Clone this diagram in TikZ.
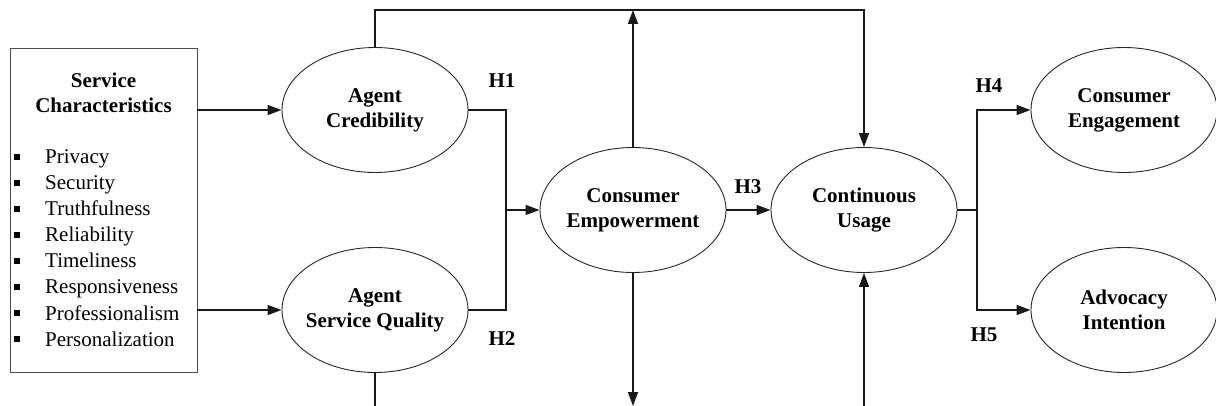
\documentclass[tikz,border=0pt]{standalone}
\usepackage{fontspec}
\setmainfont{Liberation Serif}
\usetikzlibrary{shapes.geometric,arrows.meta}
\begin{document}
\begin{tikzpicture}[x=1pt,y=-1pt,
  construct/.style={ellipse,draw=black!85,line width=0.9pt,minimum width=186pt,minimum height=125pt,inner xsep=-25pt,inner ysep=0pt,align=center,font=\fontsize{21}{25}\selectfont\bfseries},
  conn/.style={draw=black!90,line width=1.4pt},
  arr/.style={conn,-{Triangle[length=14pt,width=10pt]}},
  hlabel/.style={font=\fontsize{21}{22}\selectfont\bfseries},
  item/.style={anchor=base west,font=\fontsize{21}{22}\selectfont,inner sep=0pt},
  bul/.style={fill=black,minimum size=5.5pt,inner sep=0pt}]
\useasboundingbox (0,0) rectangle (1216,406);
% box
\node[draw=black!70,line width=0.9pt,minimum width=187pt,minimum height=324pt,inner sep=0pt] (SC) at (103.5,210) {};
\node[align=center,font=\fontsize{21}{25}\selectfont\bfseries] (SCt) at (103.5,93) {Service\\Characteristics};
\foreach \t [count=\i] in {Privacy,Security,Truthfulness,Reliability,Timeliness,Responsiveness,Professionalism,Personalization}{
  \node[bul] (b\i) at (17,{131+26*\i}) {};
  \node[item] (it\i) at (45,{138+26*\i}) {\t};
}
% ellipses
\node[construct] (AC) at (375,110) {Agent\\Credibility};
\node[construct] (ASQ) at (375,310) {Agent\\Service Quality};
\node[construct] (CE) at (633,210) {Consumer\\Empowerment};
\node[construct] (CU) at (864,210) {Continuous\\Usage};
\node[construct] (CEng) at (1124,110) {Consumer\\Engagement};
\node[construct] (AI) at (1124,310) {Advocacy\\Intention};
% labels
\node[hlabel] (H1) at (502,81) {H1};
\node[hlabel] (H2) at (502,339) {H2};
\node[hlabel] (H3) at (748,187) {H3};
\node[hlabel] (H4) at (989,86) {H4};
\node[hlabel] (H5) at (984,335) {H5};
% coordinates
\coordinate (t1) at (375,10);
\coordinate (t2) at (633,10);
\coordinate (j1) at (506,210);
\coordinate (j2) at (977,210);
\coordinate (d1) at (375,406);
\coordinate (d2) at (633,406);
\coordinate (d3) at (864,406);
% connectors
\draw[arr] (SC.east |- AC.west) -- (AC.west);
\draw[arr] (SC.east |- ASQ.west) -- (ASQ.west);
\draw[arr] (AC.north) -- (t1) -| (CU.north);
\draw[arr] (CE.north) -- (t2);
\draw[conn] (AC.east) -| (j1) |- (ASQ.east);
\draw[arr] (j1) -- (CE.west);
\draw[arr] (CE.east) -- (CU.west);
\draw[conn] (ASQ.south) -- (d1);
\draw[arr] (CE.south) -- (d2);
\draw[arr] (d3) -- (CU.south);
\draw[conn] (CU.east) -- (j2);
\draw[arr] (j2) |- (CEng.west);
\draw[arr] (j2) |- (AI.west);
\end{tikzpicture}
\end{document}
